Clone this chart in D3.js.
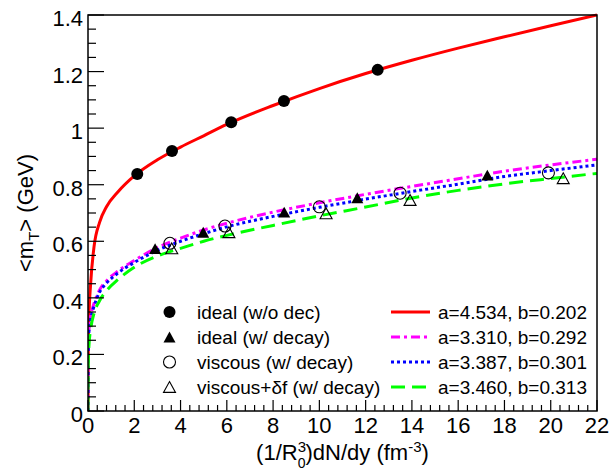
<!DOCTYPE html>
<html><head><meta charset="utf-8">
<script src="https://cdn.jsdelivr.net/npm/d3@7"></script>
<style>
html,body{margin:0;padding:0;background:#fff;}
text{font-family:"Liberation Sans",Arial,Helvetica,sans-serif;}
</style></head>
<body>
<svg id="chart" width="612" height="472"></svg>
<script>
// ---- data ----
const xTicks = [0,2,4,6,8,10,12,14,16,18,20,22];
const yTicks = [0,0.2,0.4,0.6,0.8,1,1.2,1.4];

// data points
const idealNoDecX = [2.13, 3.63, 6.19, 8.47, 12.52];
const idealNoDecY = [0.838, 0.919, 1.021, 1.096, 1.206];
const idealDecX = [2.90, 4.98, 8.48, 11.64, 17.26];
const idealDecY = [0.574, 0.632, 0.703, 0.754, 0.834];
const viscDecX = [3.54, 5.92, 10.0, 13.49, 19.9];
const viscDecY = [0.593, 0.654, 0.722, 0.770, 0.842];
const viscDfX = [3.62, 6.09, 10.29, 13.92, 20.54];
const viscDfY = [0.575, 0.632, 0.699, 0.746, 0.823];

// fit curves
const curveX      = [0, 0.01, 0.04, 0.115, 0.26, 0.5, 0.8, 1.3, 2, 3, 4, 5, 6, 8, 10, 12, 14, 16, 18, 20, 22];
const fitRedY     = [0, 0.22, 0.33, 0.451, 0.58, 0.667, 0.722, 0.775, 0.831, 0.888, 0.933, 0.973, 1.013, 1.080, 1.140, 1.193, 1.240, 1.283, 1.323, 1.362, 1.40];
const fitMagentaY = [0, 0.22, 0.29, 0.335, 0.38, 0.428, 0.46, 0.495, 0.532, 0.578, 0.611, 0.64, 0.664, 0.703, 0.736, 0.766, 0.794, 0.821, 0.848, 0.87, 0.89];
const fitBlueY    = [0, 0.21, 0.28, 0.325, 0.37, 0.42, 0.452, 0.488, 0.525, 0.568, 0.600, 0.627, 0.651, 0.688, 0.72, 0.749, 0.776, 0.802, 0.829, 0.85, 0.87];
const fitGreenY   = [0, 0.16, 0.23, 0.288, 0.345, 0.39, 0.425, 0.465, 0.508, 0.548, 0.575, 0.600, 0.621, 0.656, 0.69, 0.721, 0.753, 0.78, 0.803, 0.822, 0.84];

const markerLabels = ["ideal (w/o dec)", "ideal (w/ decay)", "viscous (w/ decay)", "viscous+\u03B4f (w/ decay)"];
const fitLabels = ["a=4.534, b=0.202", "a=3.310, b=0.292", "a=3.387, b=0.301", "a=3.460, b=0.313"];

// ---- drawing ----
const svg = d3.select("#chart");
const L = 88, R = 597, T = 15, B = 411;
const x = d3.scaleLinear().domain([0,22]).range([L,R]);
const y = d3.scaleLinear().domain([0,1.4]).range([B,T]);

const fits = [
  {ys: fitRedY, color: "#ff0000", dash: null},
  {ys: fitMagentaY, color: "#ff00ff", dash: "9,4,3,4"},
  {ys: fitBlueY, color: "#0000ff", dash: "3,3"},
  {ys: fitGreenY, color: "#00ff00", dash: "14,7"}
];
const line = d3.line().x(d => x(d[0])).y(d => y(d[1])).curve(d3.curveMonotoneX);
svg.append("clipPath").attr("id","clip").append("rect")
  .attr("x",L).attr("y",T-2).attr("width",R-L).attr("height",B-T+2);
const gl = svg.append("g").attr("clip-path","url(#clip)");
fits.forEach(f => {
  gl.append("path").datum(curveX.map((v,i)=>[v,f.ys[i]]))
    .attr("d", line).attr("fill","none").attr("stroke", f.color)
    .attr("stroke-width", 3).attr("stroke-dasharray", f.dash);
});

// marker shapes
const circ = d3.symbol().type(d3.symbolCircle).size(Math.PI*36)();
function triPath(s){
  const h = s*0.9;
  return `M0,${-h/2}L${s/2},${h/2}L${-s/2},${h/2}Z`;
}
function drawMarker(g, kind, cx, cy){
  if(kind===0) g.append("path").attr("d",circ).attr("transform",`translate(${cx},${cy})`).attr("fill","#000");
  if(kind===1) g.append("path").attr("d",triPath(12)).attr("transform",`translate(${cx},${cy})`).attr("fill","#000");
  if(kind===2) g.append("circle").attr("cx",cx).attr("cy",cy).attr("r",6).attr("fill","none").attr("stroke","#000").attr("stroke-width",1.1);
  if(kind===3) g.append("path").attr("d",triPath(12)).attr("transform",`translate(${cx},${cy})`).attr("fill","none").attr("stroke","#000").attr("stroke-width",1.1);
}
const sets = [[idealNoDecX,idealNoDecY],[idealDecX,idealDecY],[viscDecX,viscDecY],[viscDfX,viscDfY]];
const gm = svg.append("g");
sets.forEach((s,k) => s[0].forEach((xv,i) => drawMarker(gm,k,x(xv),y(s[1][i]))));

// frame
svg.append("rect").attr("x",L).attr("y",T).attr("width",R-L).attr("height",B-T)
  .attr("fill","none").attr("stroke","#000").attr("stroke-width",1.5);

// ticks
const ga = svg.append("g").attr("stroke","#000").attr("stroke-width",1.2);
d3.range(0,1.4001,0.05).forEach(v => {
  const major = Math.abs(v/0.2 - Math.round(v/0.2)) < 1e-6;
  ga.append("line").attr("x1",L).attr("x2",L+(major?16:8)).attr("y1",y(v)).attr("y2",y(v));
});
d3.range(0,22.001,0.4).forEach(v => {
  const major = Math.abs(v/2 - Math.round(v/2)) < 1e-6;
  ga.append("line").attr("y1",B).attr("y2",B-(major?11:6)).attr("x1",x(v)).attr("x2",x(v));
});
const fmt = d => d===0 ? "0" : d3.format("~g")(d);
svg.append("g").selectAll("text").data(yTicks).join("text")
  .attr("x", L-5).attr("y", d => y(d)+11).attr("text-anchor","end")
  .attr("font-size",22).text(fmt);
svg.append("g").selectAll("text").data(xTicks).join("text")
  .attr("x", d => x(d)).attr("y", 433).attr("text-anchor","middle")
  .attr("font-size",22).text(fmt);

// axis titles
const xt = svg.append("text").attr("x",(L+R)/2).attr("y",460).attr("text-anchor","middle").attr("font-size",22);
xt.append("tspan").text("(1/R");
xt.append("tspan").attr("dy",-8).attr("font-size",15).text("3");
xt.append("tspan").attr("dx",-8.3).attr("dy",16).attr("font-size",14).text("0");
xt.append("tspan").attr("dy",-8).text(")dN/dy (fm");
xt.append("tspan").attr("dy",-8).attr("font-size",15).text("-3");
xt.append("tspan").attr("dy",8).text(")");

const yt = svg.append("text").attr("transform",`translate(33,${(T+B)/2}) rotate(-90)`)
  .attr("text-anchor","middle").attr("font-size",22);
yt.append("tspan").text("<m");
yt.append("tspan").attr("dy",6).attr("font-size",15).text("T");
yt.append("tspan").attr("dy",-6).text("> (GeV)");

// legend
const rows = [318.5, 343.5, 368.5, 393.5];
const gleg = svg.append("g");
rows.forEach((by,i) => {
  drawMarker(gleg, i, 169.5, by-6.5);
  gleg.append("text").attr("x",197).attr("y",by).attr("font-size",19).text(markerLabels[i]);
  gleg.append("line").attr("x1",391).attr("x2",430).attr("y1",by-6.5).attr("y2",by-6.5)
    .attr("stroke",fits[i].color).attr("stroke-width",3).attr("stroke-dasharray",fits[i].dash);
  gleg.append("text").attr("x",438).attr("y",by).attr("font-size",19).text(fitLabels[i]);
});
</script>
</body></html>
